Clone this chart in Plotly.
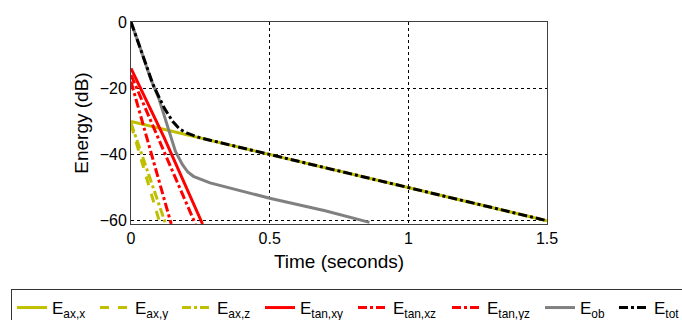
import plotly.graph_objects as go

# Data
t_ax_x = [0, 0.1, 0.2, 0.5, 1.0, 1.5]
e_ax_x = [-30, -32, -34, -40, -50, -60]

t_ax_y = [0, 0.05, 0.105]
e_ax_y = [-31, -45, -61]

t_ax_z = [0, 0.06, 0.125]
e_ax_z = [-30.5, -45, -61]

t_tan_xy = [0, 0.12, 0.258]
e_tan_xy = [-14, -35, -61]

t_tan_xz = [0, 0.145]
e_tan_xz = [-18, -61]

t_tan_yz = [0, 0.232]
e_tan_yz = [-16, -61]

t_ob = [0, 0.03, 0.07, 0.1, 0.13, 0.16, 0.185, 0.205, 0.225, 0.285, 0.5, 0.7, 0.86]
e_ob = [0, -7, -17, -23, -31, -39, -43, -45.3, -46.6, -48.6, -53.2, -57, -60.5]

t_tot = [0, 0.03, 0.08, 0.12, 0.15, 0.175, 0.2, 0.25, 0.5, 1.0, 1.5]
e_tot = [0, -7, -19, -26, -30, -32.3, -33.5, -35, -40, -50, -60]

names = ["E<sub>ax,x</sub>", "E<sub>ax,y</sub>", "E<sub>ax,z</sub>",
         "E<sub>tan,xy</sub>", "E<sub>tan,xz</sub>", "E<sub>tan,yz</sub>",
         "E<sub>ob</sub>", "E<sub>tot</sub>"]

YEL = "rgb(191,191,0)"
RED = "rgb(255,0,0)"
GRY = "rgb(128,128,128)"
BLK = "rgb(0,0,0)"

series = [
    (t_ax_x, e_ax_x, YEL, "solid", 38),
    (t_ax_y, e_ax_y, YEL, "dash", 37),
    (t_ax_z, e_ax_z, YEL, "dashdot", 38),
    (t_tan_xy, e_tan_xy, RED, "solid", 48),
    (t_tan_xz, e_tan_xz, RED, "dashdot", 49),
    (t_tan_yz, e_tan_yz, RED, "dashdot", 48),
    (t_ob, e_ob, GRY, "solid", 29),
    (t_tot, e_tot, BLK, "dashdot", 25),
]

fig = go.Figure()
for (x, y, c, d, lw), n in zip(series, names):
    fig.add_trace(go.Scatter(x=x, y=y, mode="lines", name=n, legendwidth=lw,
                             line=dict(color=c, width=3, dash=d)))

W, H = 682, 320
ML, MR, MT, MB = 131, 0, 22, 96
PLOT_R = 547
gsw = W - ML - MR
gsh = H - MT - MB

FONT = "Liberation Sans, Arial, sans-serif"
fig.update_layout(
    width=W, height=H,
    margin=dict(l=ML, r=MR, t=MT, b=MB, autoexpand=False),
    paper_bgcolor="white", plot_bgcolor="white",
    font=dict(family=FONT, size=16, color="black"),
    showlegend=True,
    legend=dict(orientation="h", x=(11 - ML) / gsw, y=(MT + gsh - 289) / gsh,
                xanchor="left", yanchor="top",
                bordercolor="#333333", borderwidth=1, font=dict(size=17),
                bgcolor="white", tracegroupgap=0),
    xaxis=dict(domain=[0, (PLOT_R - ML) / gsw],
               range=[0, 1.5], tickvals=[0, 0.5, 1, 1.5], ticktext=["0", "0.5", "1", "1.5"],
               showgrid=True, gridcolor="black", griddash="dot", gridwidth=1,
               showline=True, linecolor="#404040", linewidth=1, mirror=True,
               zeroline=False, ticks="", title=dict(text="Time (seconds)", standoff=8),
               tickfont=dict(size=16)),
    yaxis=dict(range=[-61, 0], tickvals=[0, -20, -40, -60],
               showgrid=True, gridcolor="black", griddash="dot", gridwidth=1,
               showline=True, linecolor="#404040", linewidth=1, mirror=True,
               zeroline=False, ticks="", title=dict(text="Energy (dB)", standoff=6),
               tickfont=dict(size=16)),
)

fig.write_html("out.html")
